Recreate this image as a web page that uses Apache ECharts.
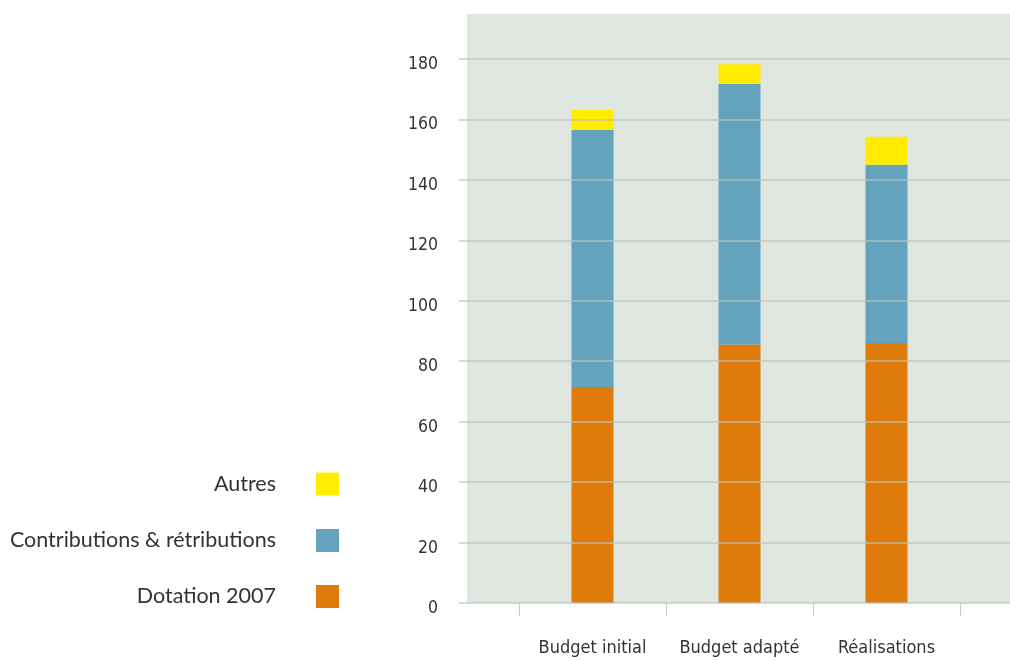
<!DOCTYPE html>
<html>
<head>
<meta charset="utf-8">
<script src="https://cdn.jsdelivr.net/npm/echarts@6/dist/echarts.min.js"></script>
<style>
  html, body { margin: 0; padding: 0; background: #ffffff; }
  #chart { width: 1010px; height: 661px; }
</style>
</head>
<body>
<div id="chart"></div>
<script>
// Budget 2007 (in millions): three stacked components per column
const categories = ['Budget initial', 'Budget adapté', 'Réalisations'];
const dotation = [71.5, 85.5, 86.0];
const contributions = [85.0, 86.2, 59.0];
const autres = [6.6, 6.6, 9.3];

// value axis ticks
const yMin = 0;
const yMax = 180;
const yStep = 20;

const seriesNames = ['Dotation 2007', 'Contributions & rétributions', 'Autres'];
const seriesColors = ['#df7b0a', '#64a3bd', '#ffec00'];

const narrowFont = '"DejaVu Sans Condensed", "Liberation Sans Narrow", sans-serif';
const legendFont = 'Lato, "Open Sans", sans-serif';

const chart = echarts.init(document.getElementById('chart'), null, { renderer: 'canvas' });

function legendAt(name, centerY) {
  return {
    data: [name],
    orient: 'horizontal',
    right: 671,
    top: centerY - 11.5,
    padding: 0,
    align: 'right',
    itemWidth: 23,
    itemHeight: 23,
    icon: 'rect',
    selectedMode: false,
    textStyle: {
      fontFamily: legendFont,
      fontSize: 21.5,
      color: '#333333',
      padding: [0, 35, 0, 0]
    }
  };
}

const option = {
  animation: false,
  backgroundColor: '#ffffff',
  graphic: [{
    type: 'rect',
    z: -10,
    silent: true,
    shape: { x: 467, y: 14, width: 543, height: 589 },
    style: { fill: '#dfe6e0' }
  }],
  legend: [
    legendAt(seriesNames[2], 484),
    legendAt(seriesNames[1], 540.5),
    legendAt(seriesNames[0], 596.5)
  ],
  grid: [
    // value scale with gridlines across the whole panel
    { left: 459, right: 0, top: 59, bottom: 58, show: false },
    // columns
    { left: 519, right: 50, top: 59, bottom: 58, show: false }
  ],
  xAxis: [
    { gridIndex: 0, type: 'value', show: false, min: 0, max: 1 },
    {
      gridIndex: 1,
      type: 'category',
      data: categories,
      offset: 4,
      axisLine: { show: false },
      axisTick: { show: true, length: 13, lineStyle: { color: '#c3cbc6', width: 1 } },
      axisLabel: {
        interval: 0,
        margin: 32,
        fontFamily: narrowFont,
        fontSize: 18,
        color: '#333333'
      }
    }
  ],
  yAxis: [
    {
      gridIndex: 0,
      type: 'value',
      min: yMin,
      max: yMax,
      interval: yStep,
      z: 5,
      axisLine: { show: false },
      axisTick: { show: false },
      splitLine: { show: true, lineStyle: { color: 'rgba(186,196,191,0.8)', width: 1.5 } },
      axisLabel: {
        margin: 21,
        fontFamily: narrowFont,
        fontSize: 17.5,
        color: '#333333',
        verticalAlign: 'top',
        lineHeight: 11
      }
    },
    {
      gridIndex: 1,
      type: 'value',
      min: yMin,
      max: yMax,
      show: false,
      splitLine: { show: false }
    }
  ],
  series: [dotation, contributions, autres].map((values, i) => ({
    name: seriesNames[i],
    type: 'bar',
    stack: 'total',
    xAxisIndex: 1,
    yAxisIndex: 1,
    barWidth: 42,
    data: values,
    itemStyle: { color: seriesColors[i] },
    emphasis: { disabled: true }
  }))
};

chart.setOption(option);
</script>
</body>
</html>
